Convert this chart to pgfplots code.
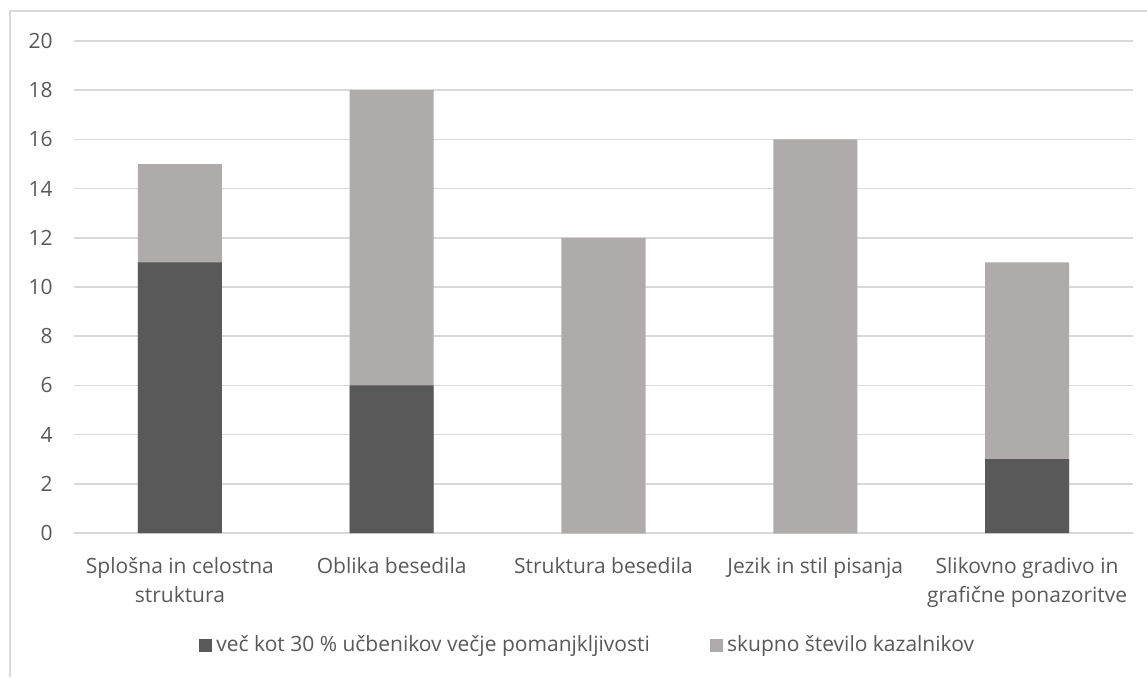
\documentclass[border=0pt]{standalone}
\usepackage{pgfplots}
\pgfplotsset{compat=1.18}
\usepackage{fontspec}
\setmainfont{Open Sans}
\definecolor{darkbar}{HTML}{595959}
\definecolor{lightbar}{HTML}{AFABAB}
\definecolor{txt}{HTML}{595959}
\definecolor{gridc}{HTML}{D9D9D9}
\begin{document}
\fontsize{10.5pt}{12.6pt}\selectfont
\begin{tikzpicture}
\useasboundingbox (0,0) rectangle (573.5pt,338.5pt);
\draw[gridc, line width=0.75pt] (5pt,0) -- (5pt,333pt) -- (573.5pt,333pt);
\begin{axis}[
    at={(37pt,72pt)}, anchor=south west,
    scale only axis,
    width=529.5pt, height=246pt,
    ymin=0, ymax=20, ytick={0,2,...,20},
    xmin=-0.5, xmax=4.5,
    xtick={0,1,2,3,4},
    xticklabels={{Splošna in celostna\\struktura}, Oblika besedila, Struktura besedila, Jezik in stil pisanja, {Slikovno gradivo in\\grafične ponazoritve}},
    xticklabel style={align=center, text=txt, font=\fontsize{10.5pt}{14.5pt}\selectfont, yshift=-8.5pt},
    yticklabel style={text=txt, xshift=-7pt},
    /pgf/number format/assume math mode=true,
    major tick length=0pt,
    axis line style={draw=none},
    ymajorgrids, grid style={gridc, line width=0.75pt},
    ybar, bar width=42pt, bar shift=0pt,
    legend columns=2,
    legend style={draw=none, at={(0.486,-0.228)}, anchor=center, text=txt,
        /tikz/every even column/.append style={column sep=28pt}},
    legend image code/.code={\fill[#1] (0pt,-3.3pt) rectangle (6.6pt,3.3pt);},
]
\addplot[fill=lightbar, draw=none, forget plot] coordinates {(0,15) (1,18) (2,12) (3,16) (4,11)};
\addplot[fill=darkbar, draw=none] coordinates {(0,11) (1,6) (2,0) (3,0) (4,3)};
\addlegendentry{več kot 30 \% učbenikov večje pomanjkljivosti}
\addlegendimage{fill=lightbar, draw=none}
\addlegendentry{skupno število kazalnikov}
\end{axis}
\end{tikzpicture}
\end{document}
